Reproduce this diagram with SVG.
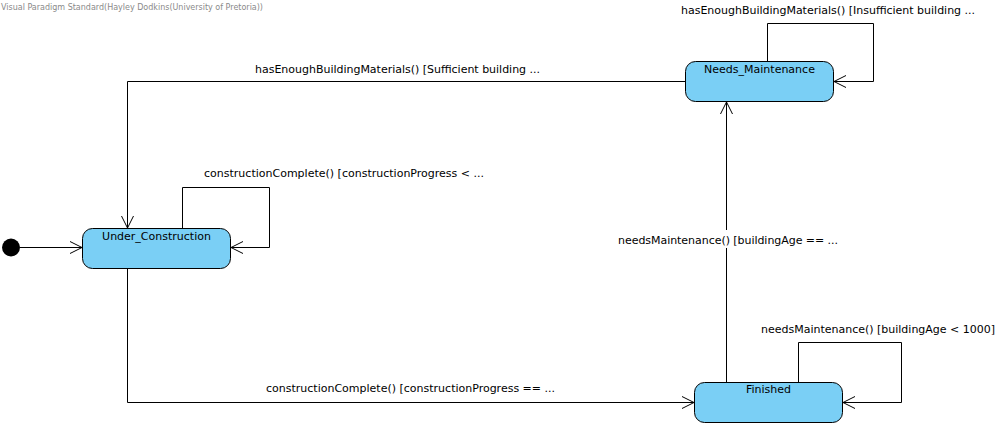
<svg xmlns="http://www.w3.org/2000/svg" width="1007" height="426" viewBox="0 0 1007 426">
<style>
.st{fill:#7ACFF5;stroke:#000;stroke-width:1}
.nl{font-family:"DejaVu Sans",sans-serif;font-size:11px;fill:#000;text-anchor:middle}
.el{font-family:"DejaVu Sans",sans-serif;font-size:11px;fill:#000}
.c{fill:none;stroke:#000;stroke-width:1}
.hd{font-family:"DejaVu Sans",sans-serif;font-size:8px;fill:#8a8a8a}
</style>
<defs>
<marker id="ah" markerWidth="14" markerHeight="14" refX="12" refY="7" orient="auto" markerUnits="userSpaceOnUse">
<path d="M0,1 L12,7 L0,13" fill="none" stroke="#000" stroke-width="1"/>
</marker>
</defs>
<rect width="1007" height="426" fill="#fff"/>
<text class="hd" x="1" y="10" textLength="262" lengthAdjust="spacingAndGlyphs">Visual Paradigm Standard(Hayley Dodkins(University of Pretoria))</text>
<g id="connectors">
<path class="c" d="M20,247.5 H82" marker-end="url(#ah)"/>
<path class="c" d="M182.5,228.5 V187.5 H269.5 V247.5 H231" marker-end="url(#ah)"/>
<path class="c" d="M685.5,81.5 H127.5 V228" marker-end="url(#ah)"/>
<path class="c" d="M767.5,61.5 V23.5 H873.5 V81.5 H834" marker-end="url(#ah)"/>
<path class="c" d="M127.5,268.5 V402.5 H694" marker-end="url(#ah)"/>
<path class="c" d="M726.5,382.5 V102" marker-end="url(#ah)"/>
<path class="c" d="M798.5,382.5 V342.5 H901.5 V402.5 H843" marker-end="url(#ah)"/>
<text class="el" x="255" y="73" textLength="285" lengthAdjust="spacing">hasEnoughBuildingMaterials() [Sufficient building ...</text>
<text class="el" x="204" y="177" textLength="280" lengthAdjust="spacing">constructionComplete() [constructionProgress &lt; ...</text>
<text class="el" x="681" y="14" textLength="294" lengthAdjust="spacing">hasEnoughBuildingMaterials() [Insufficient building ...</text>
<rect x="616" y="230" width="224" height="18" fill="#fff"/>
<text class="el" x="618" y="244" textLength="220" lengthAdjust="spacing">needsMaintenance() [buildingAge == ...</text>
<text class="el" x="266" y="392" textLength="289" lengthAdjust="spacing">constructionComplete() [constructionProgress == ...</text>
<text class="el" x="761" y="333" textLength="234" lengthAdjust="spacing">needsMaintenance() [buildingAge &lt; 1000]</text>
</g>
<g id="initial">
<circle cx="11" cy="247.5" r="9" fill="#000"/>
</g>
<g id="Under_Construction">
<rect class="st" x="82.5" y="228.5" width="148" height="40" rx="10" ry="10"/>
<text class="nl" x="156.5" y="240">Under_Construction</text>
</g>
<g id="Needs_Maintenance">
<rect class="st" x="685.5" y="61.5" width="148" height="40" rx="10" ry="10"/>
<text class="nl" x="759.5" y="73">Needs_Maintenance</text>
</g>
<g id="Finished">
<rect class="st" x="694.5" y="382.5" width="148" height="40" rx="10" ry="10"/>
<text class="nl" x="768.5" y="393">Finished</text>
</g>
</svg>
